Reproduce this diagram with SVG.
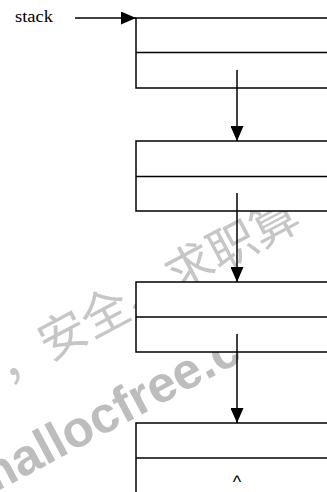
<svg xmlns="http://www.w3.org/2000/svg" width="327" height="492" viewBox="0 0 327 492">
  <defs>
    <style>
      .box { fill: #ffffff; stroke: #000000; stroke-width: 1.5; }
      .div { stroke: #000000; stroke-width: 1.5; fill: none; }
      .conn { stroke: #000000; stroke-width: 1.5; fill: none; }
      .label { font-family: "Liberation Serif", "Times New Roman", serif; font-size: 16px; fill: #000000; }
      .caret { font-family: "Liberation Sans", Arial, sans-serif; font-size: 18px; fill: #000000; }
      .wm-cjk { font-family: "Noto Sans CJK SC", "Noto Sans CJK JP", sans-serif; font-size: 48px; fill: #c6c6c6; }
      .wm-lat { font-family: "Liberation Sans", Arial, sans-serif; font-weight: bold; font-size: 51px; fill: #bdbdbd; }
    </style>
    <marker id="arrow" markerWidth="15" markerHeight="13" refX="15" refY="6.5" orient="auto" markerUnits="userSpaceOnUse">
      <path d="M0,0 L15,6.5 L0,13 Z" fill="#000000"/>
    </marker>
  </defs>
  <rect x="0" y="0" width="327" height="492" fill="#ffffff"/>

  <g id="watermark">
    <text class="wm-cjk" transform="translate(7,384) rotate(-28)">，安全、求职算</text>
    <text class="wm-lat" transform="translate(-19,500) rotate(-28)">mallocfree.c</text>
  </g>

  <g id="label-stack">
    <text class="label" x="15" y="22" textLength="38" lengthAdjust="spacingAndGlyphs">stack</text>
  </g>

  <g id="node1">
    <rect class="box" x="136" y="18" width="200" height="70"/>
    <line class="div" x1="136" y1="52.5" x2="336" y2="52.5"/>
  </g>
  <g id="node2">
    <rect class="box" x="136" y="141" width="200" height="70"/>
    <line class="div" x1="136" y1="176.5" x2="336" y2="176.5"/>
  </g>
  <g id="node3">
    <rect class="box" x="136" y="282" width="200" height="70"/>
    <line class="div" x1="136" y1="317" x2="336" y2="317"/>
  </g>
  <g id="node4">
    <rect class="box" x="136" y="423" width="200" height="80"/>
    <line class="div" x1="136" y1="458" x2="336" y2="458"/>
    <text class="caret" x="237" y="488" text-anchor="middle">^</text>
  </g>

  <g id="connectors">
    <line class="conn" x1="75" y1="18" x2="136" y2="18" marker-end="url(#arrow)"/>
    <line class="conn" x1="237" y1="70" x2="237" y2="141" marker-end="url(#arrow)"/>
    <line class="conn" x1="237" y1="193" x2="237" y2="282" marker-end="url(#arrow)"/>
    <line class="conn" x1="237" y1="334" x2="237" y2="423" marker-end="url(#arrow)"/>
  </g>
</svg>
